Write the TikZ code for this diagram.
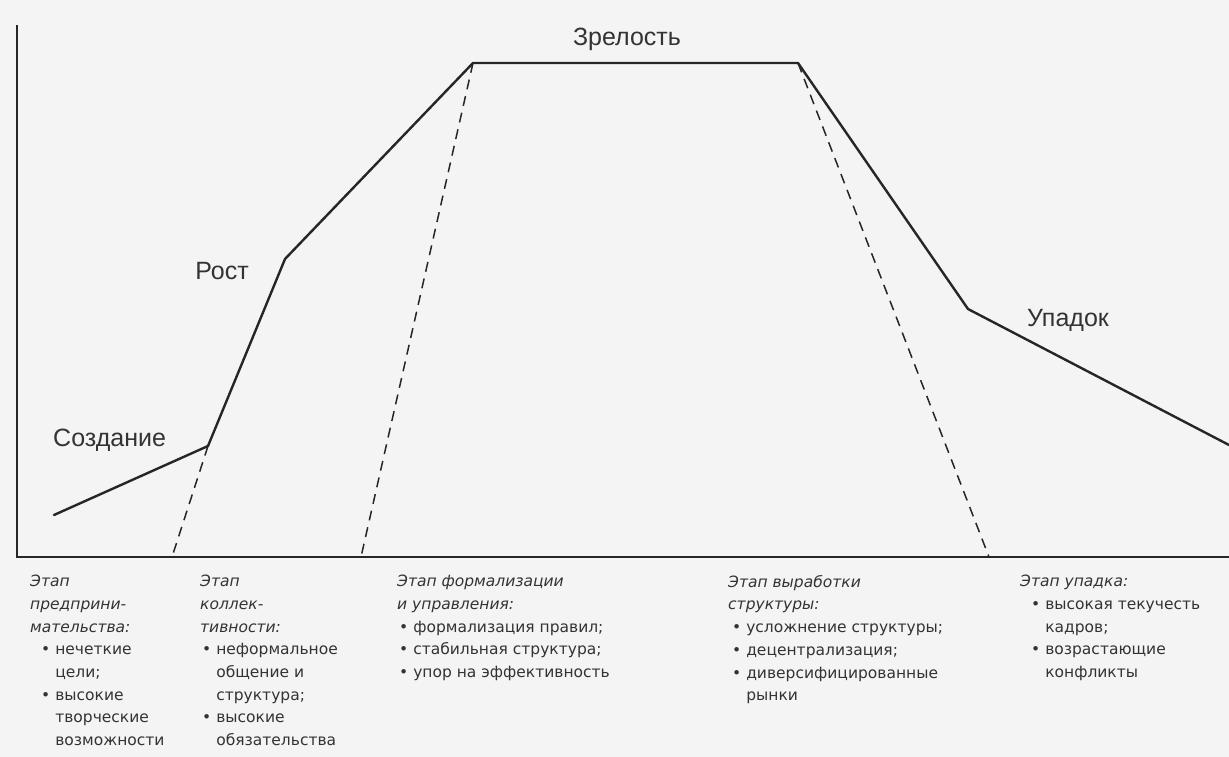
\documentclass[tikz,border=0pt]{standalone}
\usepackage{fontspec}
\setmainfont{Liberation Sans}
\newfontfamily\bodyfont{DejaVu Sans}
\definecolor{ink}{HTML}{262626}
\definecolor{txt}{HTML}{333333}
\definecolor{paper}{HTML}{F4F4F4}
\tikzset{
  curve/.style={draw=ink, line width=2.4pt, line join=round, line cap=round},
  axis/.style={draw=ink, line width=1.6pt},
  guide/.style={draw=ink, line width=1.5pt, dash pattern=on 10pt off 7pt},
  stage/.style={font=\fontsize{25}{28}\selectfont, text=txt, inner sep=0pt},
  col/.style={font=\bodyfont\fontsize{15.5}{22.7}\selectfont, text=txt, align=left, anchor=north west, inner sep=0pt},
}
\newcommand{\hd}[1]{{\itshape #1}}
\begin{document}
\begin{tikzpicture}[x=1pt,y=-1pt]
\useasboundingbox[fill=paper] (0,0) rectangle (1229,757);
% axes
\coordinate (top) at (17,25);
\coordinate (org) at (17,557);
\coordinate (xend) at (1229,557);
\draw[axis] (top) -- (org) -- (xend);
% curve points
\coordinate (p0) at (54,515);
\coordinate (p1) at (208,446);
\coordinate (p2) at (285,259);
\coordinate (p3) at (473,63);
\coordinate (p4) at (798,63);
\coordinate (p5) at (968,309);
\coordinate (p6) at (1229,445);
\draw[curve] (p0) -- (p1) -- (p2) -- (p3) -- (p4) -- (p5) -- (p6);
% dashed guides
\coordinate (b1) at (172,557);
\coordinate (b2) at (361,557);
\coordinate (b3) at (989,557);
\draw[guide] (p1) -- (b1);
\draw[guide] (p3) -- (b2);
\draw[guide] (p4) -- (b3);
% stage labels
\node[stage] (zrel) at (627,39) {Зрелость};
\node[stage] (rost) at (222,271) {Рост};
\node[stage, anchor=west] (sozd) at (53,440) {Создание};
\node[stage, anchor=west] (upad) at (1027,320) {Упадок};
% bottom columns
\node[col] (c1) at (30,575) {\hd{Этап}\\ \hd{предприни-}\\ \hd{мательства:}\\
 \hspace*{11pt}• нечеткие\\ \hspace*{11pt}\phantom{•} цели;\\ \hspace*{11pt}• высокие\\
 \hspace*{11pt}\phantom{•} творческие\\ \hspace*{11pt}\phantom{•} возможности};
\node[col] (c2) at (200,575) {\hd{Этап}\\ \hd{коллек-}\\ \hd{тивности:}\\
 \hspace*{2pt}• неформальное\\ \hspace*{2pt}\phantom{•} общение и\\ \hspace*{2pt}\phantom{•} структура;\\
 \hspace*{2pt}• высокие\\ \hspace*{2pt}\phantom{•} обязательства};
\node[col] (c3) at (397,575) {\hd{Этап формализации}\\ \hd{и управления:}\\
 \hspace*{2pt}• формализация правил;\\ \hspace*{2pt}• стабильная структура;\\ \hspace*{2pt}• упор на эффективность};
\node[col] (c4) at (728,575) {\hd{Этап выработки}\\ \hd{структуры:}\\
 \hspace*{4pt}• усложнение структуры;\\ \hspace*{4pt}• децентрализация;\\ \hspace*{4pt}• диверсифицированные\\ \hspace*{4pt}\phantom{•} рынки};
\node[col] (c5) at (1020,575) {\hd{Этап упадка:}\\
 \hspace*{11pt}• высокая текучесть\\ \hspace*{11pt}\phantom{•} кадров;\\ \hspace*{11pt}• возрастающие\\ \hspace*{11pt}\phantom{•} конфликты};
\end{tikzpicture}
\end{document}
